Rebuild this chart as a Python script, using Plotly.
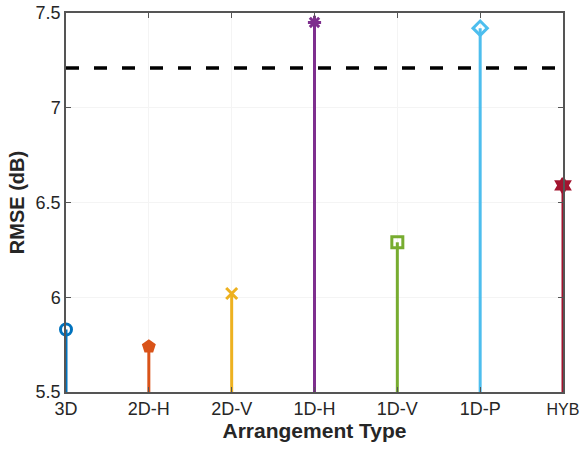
import plotly.graph_objects as go

categories = ["3D", "2D-H", "2D-V", "1D-H", "1D-V", "1D-P", "HYB"]
rmse_db = [5.83, 5.74, 6.02, 7.45, 6.29, 7.42, 6.59]
threshold_db = 7.21
colors = ["#0072BD", "#D95319", "#EDB120", "#7E2F8E", "#77AC30", "#4DBEEE", "#A2142F"]
symbols = ["circle-open", "pentagon", "x-thin-open", "asterisk-open", "square-open", "diamond-open", "hexagram"]
y_base = 5.5
y_ticks = [5.5, 6, 6.5, 7, 7.5]

xs = list(range(1, len(categories) + 1))
fig = go.Figure()

for x, v, c, s in zip(xs, rmse_db, colors, symbols):
    fig.add_trace(go.Scatter(
        x=[x, x], y=[y_base, v], mode="lines",
        line=dict(color=c, width=3), cliponaxis=False, showlegend=False, hoverinfo="skip"))
    fig.add_trace(go.Scatter(
        x=[x], y=[v], mode="markers",
        marker=dict(symbol=s, size=11, color=c, line=dict(color=c, width=3)),
        cliponaxis=False, showlegend=False))

fig.add_trace(go.Scatter(
    x=[xs[0], xs[-1]], y=[threshold_db, threshold_db], mode="lines",
    line=dict(color="black", width=3.5, dash="13px,15px"), showlegend=False))

# last label sits at the right edge of the canvas; shrink it slightly so it fits
tick_text = categories[:-1] + ["<span style='font-size:16px'>%s</span>" % categories[-1]]

fig.update_layout(
    width=580, height=454,
    margin=dict(l=66, r=17, t=13, b=62, autoexpand=False),
    plot_bgcolor="white", paper_bgcolor="white",
    font=dict(family="Liberation Sans, Arial, sans-serif", size=18, color="#262626"),
)
fig.update_xaxes(
    range=[1, 7], tickvals=xs, ticktext=tick_text,
    showgrid=True, gridcolor="#f4f4f4", gridwidth=1,
    showline=True, linecolor="#555555", linewidth=1.5, mirror="ticks",
    ticks="inside", ticklen=5, tickcolor="#555555",
    zeroline=False, automargin=False, ticklabeloverflow="allow",
    title=dict(text="<b>Arrangement Type</b>", font=dict(size=21, color="#262626"), standoff=2),
)
fig.update_yaxes(
    range=[5.5, 7.5], tickvals=y_ticks, ticktext=["5.5", "6", "6.5", "7", "7.5"],
    showgrid=True, gridcolor="#f4f4f4", gridwidth=1,
    showline=True, linecolor="#555555", linewidth=1.5, mirror="ticks",
    ticks="inside", ticklen=5, tickcolor="#555555",
    zeroline=False, automargin=False, ticklabeloverflow="allow",
    title=dict(text="<b>RMSE (dB)</b>", font=dict(size=20, color="#262626"), standoff=6),
)

fig.write_html("out.html", config={"displayModeBar": False},
               post_script="document.body.style.margin='0';")
